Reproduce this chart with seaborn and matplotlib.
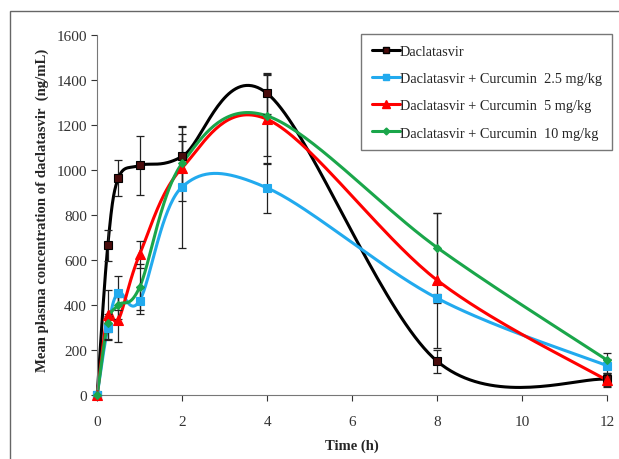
import numpy as np
import pandas as pd
import seaborn as sns
import matplotlib.pyplot as plt
from matplotlib.patches import Rectangle

# time points (h)
time = [0, 0.25, 0.5, 1, 2, 4, 8, 12]

dcv = [0, 665, 965, 1020, 1060, 1340, 150, 70]
dcv_sd = [0, 70, 80, 130, 130, 90, 50, 30]
cur25 = [0, 300, 455, 420, 925, 920, 430, 130]
cur25_sd = [0, 50, 75, 60, 270, 110, 20, 30]
cur5 = [0, 355, 335, 625, 1010, 1225, 510, 65]
cur5_sd = [0, 110, 100, 60, 150, 200, 300, 30]
cur10 = [0, 320, 400, 480, 1030, 1240, 655, 155]
cur10_sd = [0, 40, 60, 100, 100, 180, 155, 30]

names = ["Daclatasvir",
         "Daclatasvir + Curcumin  2.5 mg/kg",
         "Daclatasvir + Curcumin  5 mg/kg",
         "Daclatasvir + Curcumin  10 mg/kg"]
series = [dcv, cur25, cur5, cur10]
errors = [dcv_sd, cur25_sd, cur5_sd, cur10_sd]
colors = ["#000000", "#22aaee", "#ff0000", "#1aa64a"]
markers = ["s", "s", "^", "D"]
mfaces = ["#4a0c0c", "#22aaee", "#ff0000", "#1aa64a"]
msizes = [5.5, 6, 7, 4.5]


def smooth(x, y, n=40):
    # Excel style smoothed line (Catmull-Rom bezier through the points)
    p = np.column_stack([x, y]).astype(float)
    out = []
    for i in range(len(p) - 1):
        p0 = p[i - 1] if i > 0 else p[i]
        p3 = p[i + 2] if i + 2 < len(p) else p[i + 1]
        c1 = p[i] + (p[i + 1] - p0) / 6
        c2 = p[i + 1] - (p3 - p[i]) / 6
        t = np.linspace(0, 1, n)[:, None]
        seg = ((1 - t) ** 3 * p[i] + 3 * (1 - t) ** 2 * t * c1
               + 3 * (1 - t) * t ** 2 * c2 + t ** 3 * p[i + 1])
        out.append(seg if i == 0 else seg[1:])
    return np.vstack(out)


rows = []
for name, ys in zip(names, series):
    for k, (sx, sy) in enumerate(smooth(time, ys)):
        rows.append({"t": sx, "c": sy, "group": name, "order": k})
curves = pd.DataFrame(rows)

sns.set_style("ticks")
plt.rcParams['font.family'] = ['Liberation Serif', 'DejaVu Serif']

fig = plt.figure(figsize=(6.19, 4.6), dpi=100)
ax = fig.add_axes([0.157, 0.139, 0.824, 0.783])

sns.lineplot(data=curves, x="t", y="c", hue="group", palette=colors,
             sort=False, estimator=None, units="group", lw=2.2, ax=ax,
             legend=False, clip_on=False)

for name, ys, es, col, m, mf, ms in zip(names, series, errors, colors,
                                        markers, mfaces, msizes):
    ax.errorbar(time, ys, yerr=es, fmt="none", ecolor="#222222",
                elinewidth=0.9, capsize=3, capthick=0.9, clip_on=False, zorder=3)
    ax.plot(time, ys, ls="none", marker=m, ms=ms, mfc=mf, mec=col,
            mew=0.8, clip_on=False, zorder=4)
    ax.plot([], [], color=col, lw=2.2, marker=m, ms=ms - 1, mfc=mf,
            mec=col, label=name)

ax.set_xlim(0, 12)
ax.set_ylim(0, 1600)
ax.set_xticks(range(0, 13, 2))
ax.set_yticks(range(0, 1601, 200))
ax.tick_params(labelsize=11, colors="#333333", direction="out", length=4)
ax.tick_params(axis="x", pad=10)
for s in ["top", "right"]:
    ax.spines[s].set_visible(False)
for s in ["left", "bottom"]:
    ax.spines[s].set_color("#777777")

ax.set_xlabel("Time (h)", fontsize=10.5, fontweight="bold", labelpad=8)
ax.set_ylabel("Mean plasma concentration of daclatasvir  (ng/mL)",
              fontsize=10.6, fontweight="bold", labelpad=5)
ax.yaxis.set_label_coords(-0.094, 0.515)

leg = ax.legend(loc="upper right", bbox_to_anchor=(1.0098, 1.003), fontsize=10.3,
                frameon=True, fancybox=False, handlelength=1.95,
                handletextpad=0.0, borderpad=0.75, borderaxespad=0,
                labelspacing=1.0)
leg.get_frame().set_edgecolor("#555555")
leg.get_frame().set_linewidth(1.0)

# picture frame: only left and top edges fall inside the crop
fig.patches.append(Rectangle((0.016, -0.1), 1.1, 1.074, transform=fig.transFigure,
                             fill=False, ec="#666666", lw=1.0))

fig.savefig("out.png", dpi=100)
